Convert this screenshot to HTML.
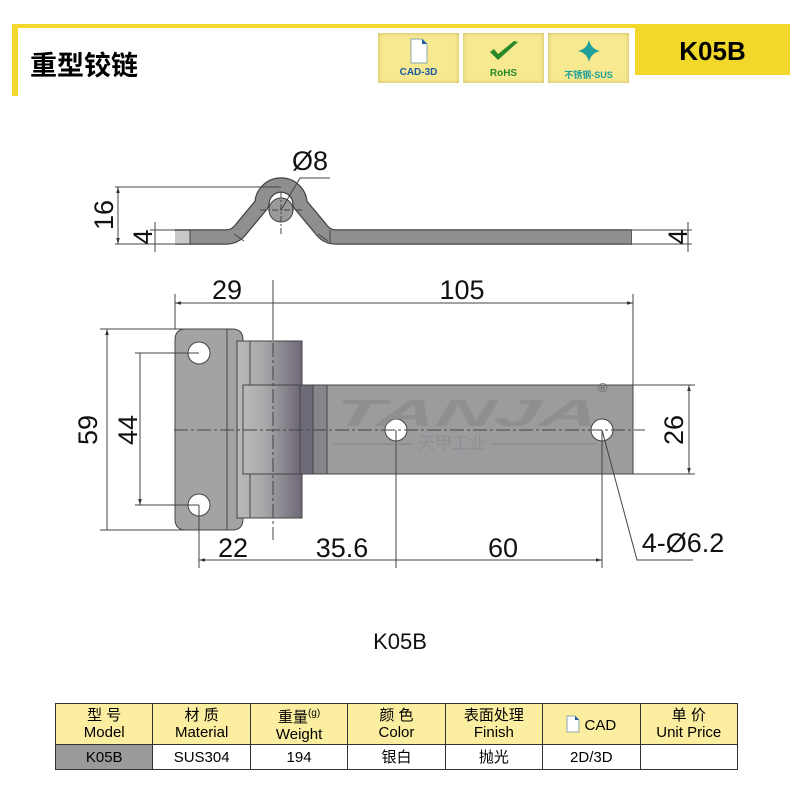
<!DOCTYPE html>
<html><head><meta charset="utf-8"><style>
body{margin:0;width:790px;height:790px;background:#fff;overflow:hidden;position:relative;font-family:"Liberation Sans","Noto Sans CJK SC",sans-serif}
.a{position:absolute}
.badge{position:absolute;top:33px;height:50px;width:81px;background:#f7e98f;box-shadow:inset 0 0 4px #c8b860;text-align:center;font-weight:bold;font-size:10px}
table{position:absolute;left:55px;top:703px;border-collapse:collapse;font-size:15px;text-align:center;table-layout:fixed;width:683px}
td{border:1.5px solid #333;padding:0;line-height:17px}
.h td{background:#fbeea0;height:40px}
.d td{height:24px}
</style></head><body>
<div class="a" style="left:12px;top:24px;width:778px;height:4px;background:#f2d82a"></div>
<div class="a" style="left:12px;top:24px;width:6px;height:72px;background:#f2d82a"></div>
<div class="a" style="left:30px;top:46px;font-size:27px;font-weight:bold;font-family:'Noto Sans CJK SC',sans-serif;line-height:36px">重型铰链</div>
<div class="badge" style="left:378px"><svg width="20" height="26" style="margin-top:5px"><path d="M2 1h11l5 5v19H2z" fill="#fff" stroke="#8aa"/><path d="M13 1v5h5z" fill="#1a5aa0"/></svg><div style="color:#1a5aa0;margin-top:0">CAD-3D</div></div>
<div class="badge" style="left:463px"><svg width="34" height="26" style="margin-top:6px"><path d="M3 13l8 8 20-18-4-1-16 13-4-5z" fill="#2a8a2a"/></svg><div style="color:#2a8a2a">RoHS</div></div>
<div class="badge" style="left:548px"><svg width="26" height="26" style="margin-top:6px"><path d="M13 1Q15 10 24 12Q15 14 13 23Q11 14 2 12Q11 10 13 1z" fill="#1fa09a"/></svg><div style="color:#1fa09a;font-size:9px">不锈钢-SUS</div></div>
<div class="a" style="left:635px;top:24px;width:155px;height:51px;background:#f2d82a;text-align:center;font-weight:bold;font-size:26px;line-height:54px">K05B</div>

<svg class="a" style="left:0;top:0" width="790" height="700" font-family="Liberation Sans, sans-serif">
<defs><linearGradient id="bg" x1="0" x2="1"><stop offset="0" stop-color="#b9b9b9"/><stop offset="0.4" stop-color="#a8a8aa"/><stop offset="1" stop-color="#6e6876"/></linearGradient>
<marker id="ar" viewBox="0 0 10 10" refX="10" refY="5" markerWidth="6" markerHeight="6" orient="auto-start-reverse"><path d="M0 2L10 5L0 8z" fill="#333"/></marker></defs>
<!-- side view -->
<path d="M175 237H226Q236 237 242 228L262 204A19 19 0 1 1 300 204L320 228Q326 237 336 237H632" fill="none" stroke="#444" stroke-width="15.5" stroke-linejoin="round"/>
<path d="M175.7 237H226Q236 237 242 228L262 204A19 19 0 1 1 300 204L320 228Q326 237 336 237H631.3" fill="none" stroke="#8f8f92" stroke-width="13" stroke-linejoin="round"/>
<rect x="175" y="231" width="15" height="12.5" fill="#c9c9c9"/>
<g stroke="#444" stroke-width="1" fill="none">
<line x1="190" y1="230" x2="190" y2="244"/>
<line x1="234" y1="234" x2="244" y2="241"/><line x1="318" y1="234" x2="328" y2="241"/><line x1="330" y1="230" x2="330" y2="244"/>
<circle cx="281" cy="210" r="12" fill="#9a9a9d"/>
<path d="M281 192v42M260 210h42" stroke-dasharray="6 2 2 2"/>
<path d="M330 178H300L281 210"/>
<path d="M115 187H281M115 244H175"/><path d="M118 187V244" marker-start="url(#ar)" marker-end="url(#ar)"/>
<path d="M150 230H175M150 244H175M155 222V252"/>
<path d="M632 230H692M632 244H692M688 222V252"/>
<!-- main view -->
<path d="M175 340Q175 329 186 329H232Q243 329 243 340V519Q243 530 232 530H186Q175 530 175 519Z" fill="#a3a3a6"/>
<line x1="227" y1="329" x2="227" y2="530"/>
<rect x="237" y="341" width="65" height="177" fill="url(#bg)"/>
<line x1="250" y1="341" x2="250" y2="518"/>
<rect x="243" y="385" width="390" height="89" fill="#9c9c9f"/>
<rect x="243" y="385" width="57" height="89" fill="url(#bg)"/>
<rect x="300" y="385" width="13" height="89" fill="#6f6a78"/>
<rect x="313" y="385" width="14" height="89" fill="#87848b"/>
<circle cx="199" cy="353" r="11" fill="#fff"/><circle cx="199" cy="505" r="11" fill="#fff"/>
<circle cx="396" cy="430" r="11" fill="#fff"/><circle cx="602" cy="430" r="11" fill="#fff"/>
<path d="M174 430H645M273 320V540" stroke-dasharray="14 3 3 3"/>
<!-- dims -->
<path d="M175 294V329M273 280V340M633 294V385"/>
<path d="M175 303H273M273 303H633" marker-start="url(#ar)" marker-end="url(#ar)"/>
<path d="M100 329H190M100 530H190M135 353H199M135 505H199"/>
<path d="M107 329V530M140 353V505" marker-start="url(#ar)" marker-end="url(#ar)"/>
<path d="M633 385H695M633 474H695"/><path d="M689 385V474" marker-start="url(#ar)" marker-end="url(#ar)"/>
<path d="M199 505V568M396 430V568M602 430V568"/>
<path d="M199 560H273M273 560H396M396 560H602" marker-start="url(#ar)" marker-end="url(#ar)"/>
<path d="M602 430L637 560H693"/>
</g>
<g fill="#888" opacity="0.6" font-weight="bold" font-style="italic" font-size="38"><text x="332" y="426" textLength="265" lengthAdjust="spacingAndGlyphs" transform="skewX(-10) translate(75,0)">TANJA</text></g>
<g fill="#888" opacity="0.6"><text x="418" y="449" font-size="17" font-family="Noto Sans CJK SC,sans-serif">天甲工业</text><rect x="333" y="443" width="80" height="2"/><rect x="492" y="443" width="105" height="2"/></g>
<text x="598" y="392" font-size="13" fill="#666">®</text>
<g fill="#111" font-size="27" text-anchor="middle">
<text x="310" y="170">Ø8</text>
<text x="227" y="299">29</text><text x="462" y="299">105</text>
<text x="233" y="557">22</text><text x="342" y="557">35.6</text><text x="503" y="557">60</text>
<text x="683" y="552">4-Ø6.2</text>
<text transform="translate(113,215) rotate(-90)">16</text>
<text transform="translate(152,237) rotate(-90)">4</text>
<text transform="translate(687,237) rotate(-90)">4</text>
<text transform="translate(97,430) rotate(-90)">59</text>
<text transform="translate(137,430) rotate(-90)">44</text>
<text transform="translate(683,430) rotate(-90)">26</text>
</g>
<text x="400" y="649" font-size="22" text-anchor="middle" fill="#111">K05B</text>
</svg>

<table>
<tr class="h"><td>型 号<br>Model</td><td>材 质<br>Material</td><td>重量<sup style="font-size:10px">(g)</sup><br>Weight</td><td>颜 色<br>Color</td><td>表面处理<br>Finish</td><td><svg width="14" height="18" style="vertical-align:-3px"><path d="M1 1h8l4 4v12H1z" fill="#fff" stroke="#8aa"/><path d="M9 1v4h4z" fill="#1a5aa0"/></svg> CAD</td><td>单 价<br>Unit Price</td></tr>
<tr class="d"><td style="background:#9a9a9a">K05B</td><td>SUS304</td><td>194</td><td>银白</td><td>抛光</td><td>2D/3D</td><td></td></tr>
</table>
</body></html>
